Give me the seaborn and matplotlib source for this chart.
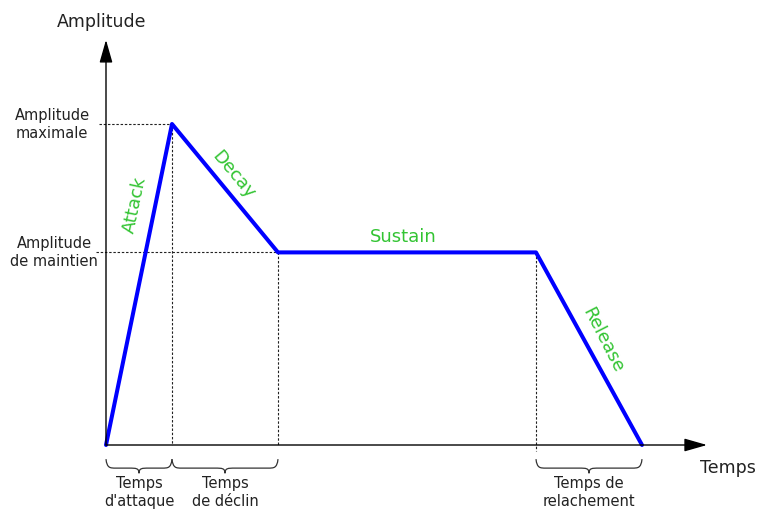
import numpy as np
import pandas as pd
import matplotlib
matplotlib.use("Agg")
import matplotlib.pyplot as plt
from matplotlib.path import Path
from matplotlib.patches import PathPatch
import seaborn as sns

# Envelope ADSR (temps, amplitude)
times = [0, 0.66, 1.72, 4.30, 5.36]
amps = [0, 1.0, 0.6, 0.6, 0]
phases = ["Attack", "Decay", "Sustain", "Release"]
level_labels = ["Amplitude\nmaximale", "Amplitude\nde maintien"]
time_labels = ["Temps\nd'attaque", "Temps\nde déclin", "Temps de\nrelachement"]

df = pd.DataFrame({"temps": times, "amplitude": amps})

sns.set_theme(style="white")
plt.rcParams['font.family'] = ['DejaVu Sans']

fig = plt.figure(figsize=(7.61, 5.11), dpi=100)
ax = fig.add_axes([0, 0, 1, 1])

green = "#33c433"

# axes with arrows
arrow = dict(arrowstyle="-|>,head_length=0.7,head_width=0.2", lw=1.0,
             color="black", mutation_scale=20, shrinkA=0, shrinkB=0)
ax.annotate("", xy=(6.01, 0), xytext=(0, 0), arrowprops=arrow)
ax.annotate("", xy=(0, 1.262), xytext=(0, 0), arrowprops=arrow)
ax.text(-0.04, 1.318, "Amplitude", ha="center", va="center", fontsize=12.5, color="#222222")
ax.text(6.22, -0.072, "Temps", ha="center", va="center", fontsize=12.5, color="#222222")

# dotted guides
dot = dict(color="#222222", lw=0.8, ls=(0, (2.2, 1.6)))
peak_t, peak_a = times[1], amps[1]
sus_a = amps[2]
ax.plot([-0.07, peak_t], [peak_a, peak_a], **dot)
ax.plot([peak_t, peak_t], [peak_a, 0], **dot)
ax.plot([-0.1, times[2]], [sus_a, sus_a], **dot)
ax.plot([times[2], times[2]], [sus_a, 0], **dot)
ax.plot([times[3], times[3]], [sus_a, -0.02], **dot)

# envelope
sns.lineplot(data=df, x="temps", y="amplitude", sort=False, estimator=None,
             color="#0000ff", lw=2.9, ax=ax, legend=False)
ax.set_xlim(-1.06, 6.55)
ax.set_ylim(-0.2056, 1.3863)
ax.axis("off")

# level labels
ax.text(-0.54, peak_a, level_labels[0], ha="center", va="center", fontsize=10.5,
        color="#222222", linespacing=1.25)
ax.text(-0.52, sus_a, level_labels[1], ha="center", va="center", fontsize=10.5,
        color="#222222", linespacing=1.25)

# phase labels
ax.text(0.29, 0.748, phases[0], ha="center", va="center", fontsize=13, color=green, rotation=78)
ax.text(1.27, 0.841, phases[1], ha="center", va="center", fontsize=13, color=green, rotation=-50)
ax.text(2.97, 0.648, phases[2], ha="center", va="center", fontsize=13, color=green)
ax.text(4.97, 0.327, phases[3], ha="center", va="center", fontsize=13, color=green, rotation=-63)


def brace(x0, x1, top=-0.044, band=-0.072, tip=-0.088, r=0.1):
    xm = (x0 + x1) / 2
    verts = [(x0, top), (x0 + 0.01, band), (x0 + r * 0.4, band), (x0 + r, band),
             (xm - r, band), (xm - r * 0.3, band), (xm, band), (xm, tip),
             (xm, band), (xm + r * 0.3, band), (xm + r, band),
             (x1 - r, band), (x1 - r * 0.4, band), (x1 - 0.01, band), (x1, top)]
    codes = [Path.MOVETO, Path.CURVE4, Path.CURVE4, Path.CURVE4,
             Path.LINETO, Path.CURVE4, Path.CURVE4, Path.CURVE4,
             Path.CURVE4, Path.CURVE4, Path.CURVE4,
             Path.LINETO, Path.CURVE4, Path.CURVE4, Path.CURVE4]
    ax.add_patch(PathPatch(Path(verts, codes), fill=False, lw=0.9, color="#333333"))
    return xm


spans = [(times[0], times[1]), (times[1], times[2]), (times[3], times[4])]
for (a, b), lab in zip(spans, time_labels):
    xm = brace(a, b)
    ax.text(xm, -0.147, lab, ha="center", va="center", fontsize=10.5,
            color="#222222", linespacing=1.25)

fig.savefig("out.png", dpi=100)
